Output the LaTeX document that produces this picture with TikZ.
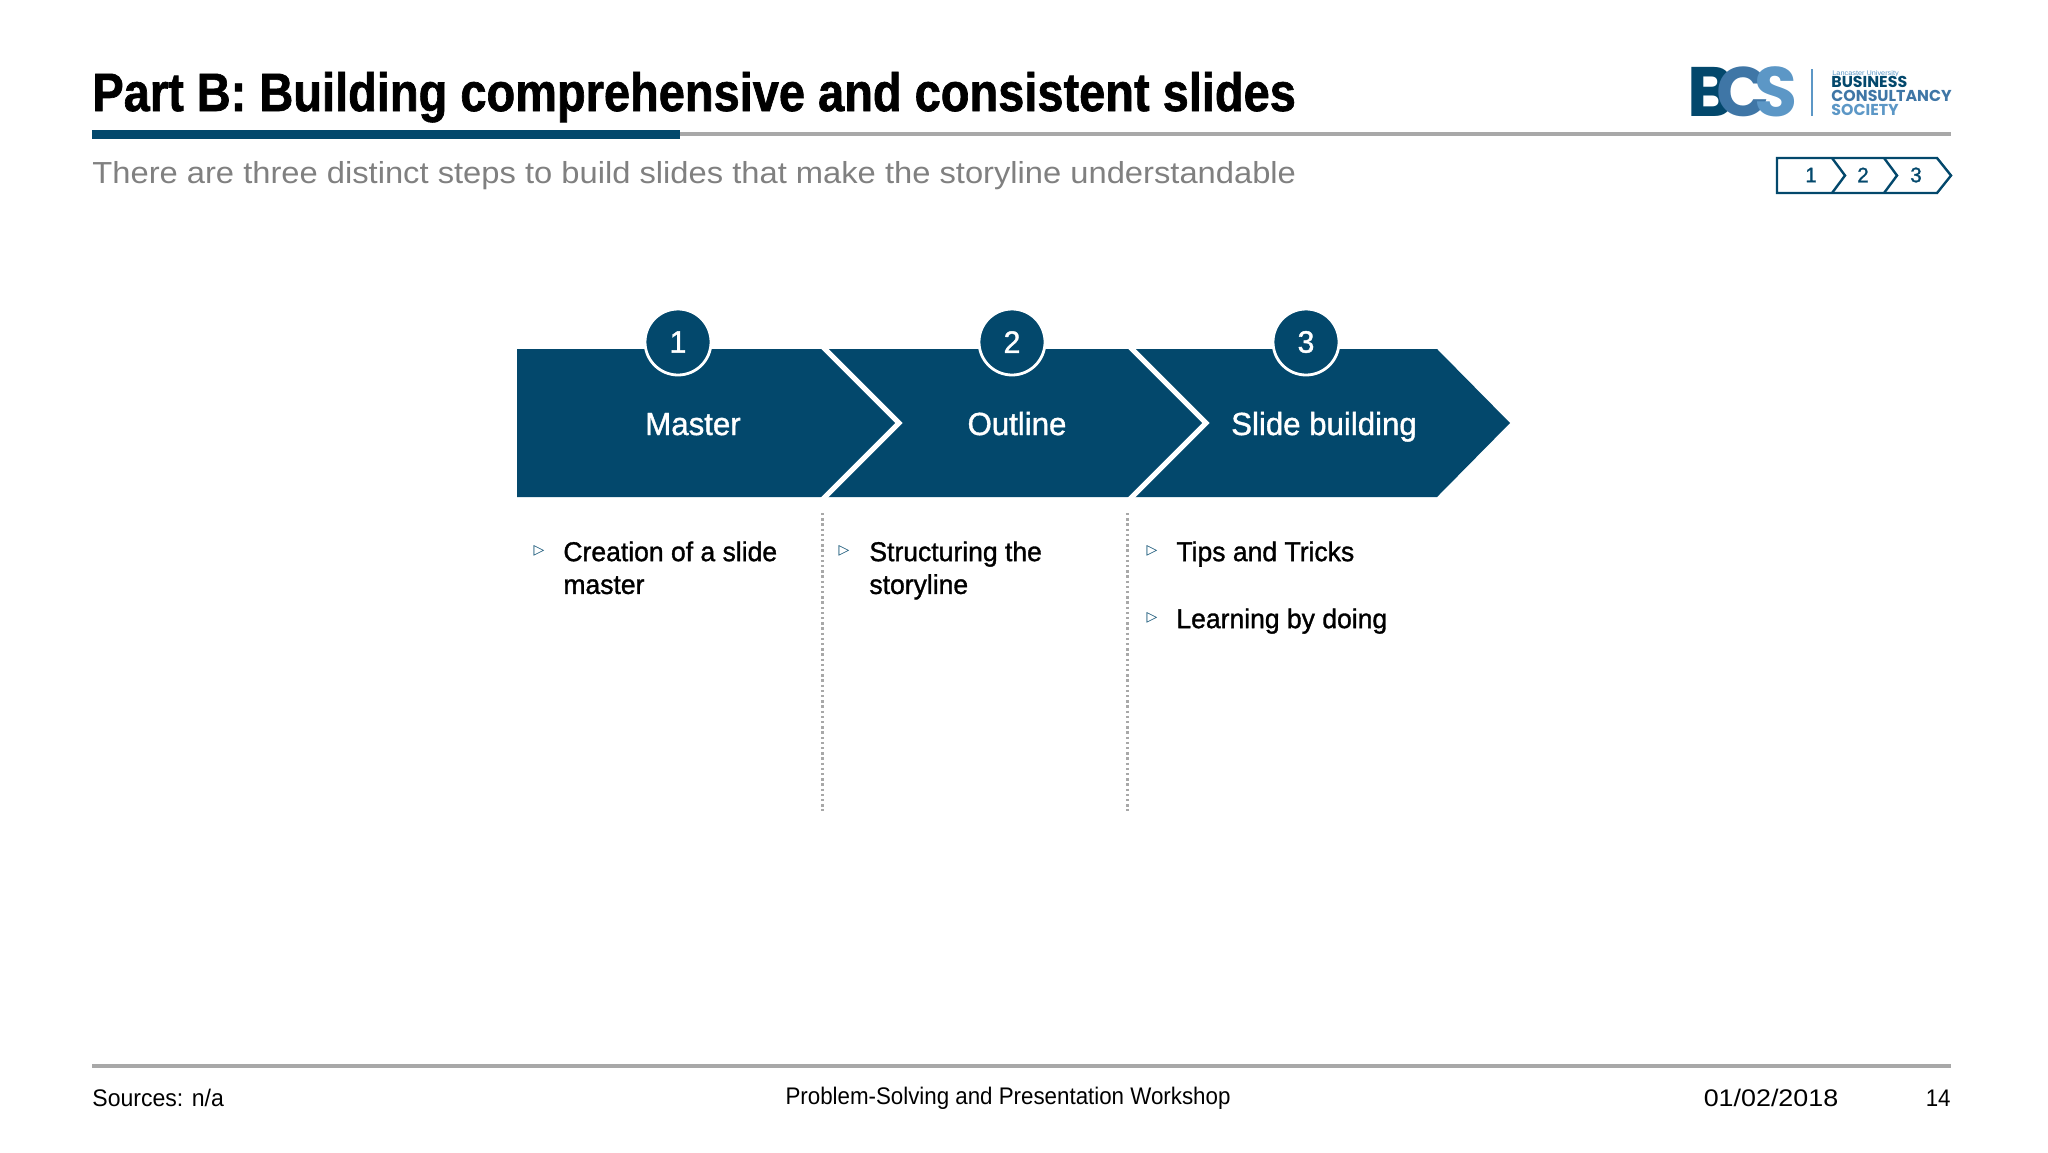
\documentclass[tikz,border=0pt]{standalone}
\usepackage{fontspec}
\setmainfont{Liberation Sans}
\newfontfamily\titlefont[FakeStretch=0.87,FakeBold=1.2]{Liberation Sans Bold}
\newfontfamily\subfont[FakeStretch=1.076]{Liberation Sans}
\newfontfamily\footfont[FakeStretch=0.93]{Liberation Sans}
\newfontfamily\sourcefont[FakeStretch=0.96]{Liberation Sans}
\newfontfamily\datefont[FakeStretch=1.12]{Liberation Sans}
\newfontfamily\itemfont[FakeStretch=0.975,FakeBold=1.2]{Liberation Sans}
\newfontfamily\logofont{Poppins Bold}
\newfontfamily\bulletfont{DejaVu Sans}
\definecolor{bcsblue}{HTML}{03486C}
\definecolor{bcsmid}{HTML}{3F76A6}
\definecolor{bcslight}{HTML}{5C97C6}
\definecolor{rulegrey}{HTML}{A8A8A8}
\definecolor{subgrey}{HTML}{808080}
\tikzset{
	bandlabel/.style={inner sep=0pt, anchor=base, text=white, font=\itemfont\fontsize{16}{18}\selectfont},
	stepcircle/.style={circle, fill=bcsblue, draw=white, line width=1.4pt, minimum size=33pt, inner sep=0pt, text=white, font=\itemfont\fontsize{15.5}{18}\selectfont},
	itemtext/.style={anchor=north west, align=left, inner sep=0pt, text=black, font=\itemfont\fontsize{13.6}{16.4}\selectfont},
	itembullet/.style={inner sep=0pt, text=bcsblue, font=\bulletfont\fontsize{7}{8}\selectfont},
	footertext/.style={inner sep=0pt, anchor=base, text=black, font=\footfont\fontsize{12}{14}\selectfont},
	trackernum/.style={inner sep=0pt, text=bcsblue, font=\itemfont\fontsize{10.5}{12}\selectfont},
	logoletter/.style={inner sep=0pt, anchor=base west, font=\logofont\fontsize{35}{35}\selectfont},
	logoline/.style={inner sep=0pt, anchor=base west, font=\logofont\fontsize{7.9}{9}\selectfont},
	dividerline/.style={rulegrey, line width=1.5pt, dash pattern=on 1.2pt off 1.4pt}
}
\begin{document}
\begin{tikzpicture}[x=0.5pt, y=-0.5pt]
	\useasboundingbox (0,0) rectangle (2048,1152);
	%heading
	{\node[inner sep=0pt, anchor=base west] (title) at (92,111) {\titlefont\fontsize{27}{30}\selectfont Part B: Building comprehensive and consistent slides};}
	{\fill[rulegrey] (92,132) rectangle (1951,136);}
	{\fill[bcsblue] (92,130) rectangle (680,139);}
	{\node[inner sep=0pt, anchor=base west, text=subgrey] (subtitle) at (92,183) {\subfont\fontsize{15.2}{18}\selectfont There are three distinct steps to build slides that make the storyline understandable};}
	%logo
	{\node[logoletter, text=bcsblue] (logob) at (1687,116) {B};}
	{\node[logoletter, text=bcsmid] (logoc) at (1716,116) {C};}
	{\node[logoletter, text=bcslight] (logos) at (1754,116) {S};}
	{\fill[bcslight] (1811,69) rectangle (1813,116);}
	{\node[inner sep=0pt, anchor=base west, text=bcslight, font=\subfont\fontsize{3.4}{4}\selectfont] (logouni) at (1832,75) {Lancaster University};}
	{\node[logoline, text=bcsblue] (logoa) at (1831,87) {BUSINESS};}
	{\node[logoline, text=bcsmid] (logod) at (1831,101) {CONSULTANCY};}
	{\node[logoline, text=bcslight] (logoe) at (1831,115) {SOCIETY};}
	%tracker
	{\draw[bcsblue, line width=1.2pt, line join=miter] (1777,158) -- (1937,158) -- (1951,175.5) -- (1937,193) -- (1777,193) -- cycle;}
	{\draw[bcsblue, line width=1.2pt] (1832,158) -- (1845,175.5) -- (1832,193);}
	{\draw[bcsblue, line width=1.2pt] (1884,158) -- (1897,175.5) -- (1884,193);}
	{\node[trackernum] (trackera) at (1811,175) {1};}
	{\node[trackernum] (trackerb) at (1863,175) {2};}
	{\node[trackernum] (trackerc) at (1916,175) {3};}
	%chevrons
	{\fill[bcsblue] (517,349) -- (1437,349) -- (1510,423) -- (1437,497) -- (517,497) -- cycle;}
	{\draw[white, line width=2.6pt, line join=miter] (821,345) -- (899,423) -- (821,501);}
	{\draw[white, line width=2.6pt, line join=miter] (1128,345) -- (1206,423) -- (1128,501);}
	{\node[bandlabel] (master) at (693,435) {Master};}
	{\node[bandlabel] (outline) at (1017,435) {Outline};}
	{\node[bandlabel] (building) at (1324,435) {Slide building};}
	{\node[stepcircle] (stepa) at (678,342) {1};}
	{\node[stepcircle] (stepb) at (1012,342) {2};}
	{\node[stepcircle] (stepc) at (1306,342) {3};}
	%lists
	{\node[itembullet] (bulleta) at (539,551) {▷};}
	{\node[itemtext] (itema) at (563,541) {Creation of a slide\\master};}
	{\node[itembullet] (bulletb) at (844,551) {▷};}
	{\node[itemtext] (itemb) at (869,541) {Structuring the\\storyline};}
	{\node[itembullet] (bulletc) at (1152,551) {▷};}
	{\node[itemtext] (itemc) at (1176,541) {Tips and Tricks};}
	{\node[itembullet] (bulletd) at (1152,618) {▷};}
	{\node[itemtext] (itemd) at (1176,608) {Learning by doing};}
	%dividers
	{\coordinate (dividera) at (822,513);}
	{\coordinate (dividerb) at (822,811);}
	{\coordinate (dividerc) at (1127,513);}
	{\coordinate (dividerd) at (1127,811);}
	{\draw[dividerline] (dividera) -- (dividerb);}
	{\draw[dividerline] (dividerc) -- (dividerd);}
	%footer
	{\fill[rulegrey] (92,1064) rectangle (1951,1068);}
	{\node[footertext, anchor=base west, font=\sourcefont\fontsize{12}{14}\selectfont] (sources) at (92,1106) {Sources: n/a};}
	{\node[footertext] (workshop) at (1008,1104) {Problem-Solving and Presentation Workshop};}
	{\node[footertext, font=\datefont\fontsize{12}{14}\selectfont] (date) at (1771,1106) {01/02/2018};}
	{\node[footertext, anchor=base east] (page) at (1951,1106) {14};}
\end{tikzpicture}
\end{document}
